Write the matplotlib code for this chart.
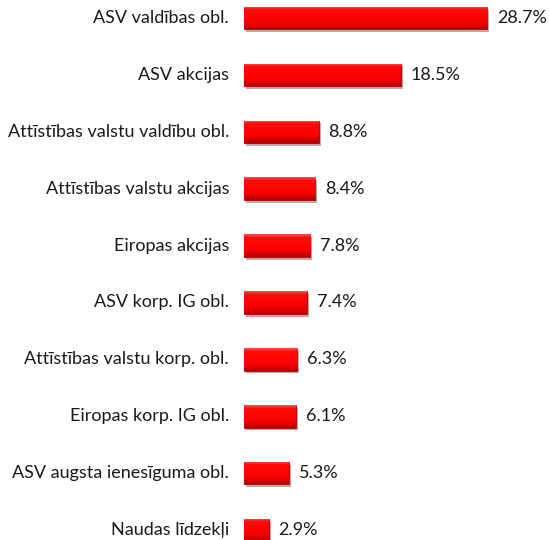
import matplotlib
matplotlib.use("Agg")
import matplotlib.pyplot as plt
import matplotlib.patheffects as pe
import numpy as np
from matplotlib.colors import LinearSegmentedColormap

categories = [
    "ASV valdības obl.",
    "ASV akcijas",
    "Attīstības valstu valdību obl.",
    "Attīstības valstu akcijas",
    "Eiropas akcijas",
    "ASV korp. IG obl.",
    "Attīstības valstu korp. obl.",
    "Eiropas korp. IG obl.",
    "ASV augsta ienesīguma obl.",
    "Naudas līdzekļi",
]
values = [28.7, 18.5, 8.8, 8.4, 7.8, 7.4, 6.3, 6.1, 5.3, 2.9]

plt.rcParams["font.family"] = ["Lato", "DejaVu Sans"]

px_per_unit = 8.47   # horizontal pixels per percentage point
row = 56.9           # vertical pixels per category row

fig = plt.figure(figsize=(5.49, 5.40), dpi=100)
ax = fig.add_axes([244 / 549, 0, 305 / 549, 1])
ax.set_xlim(0, 305 / px_per_unit)
ax.set_ylim((540 - 18) / row, -18 / row)

ypos = np.arange(len(categories))
bars = ax.barh(ypos, values, height=0.395, color="#ff0000", edgecolor="#b00000",
               linewidth=0.6, zorder=2,
               path_effects=[pe.SimplePatchShadow(offset=(1.5, -2), alpha=0.35),
                             pe.Normal()])

# vertical gradient inside each bar for the bevelled look
grad = np.linspace(0, 1, 64).reshape(-1, 1)
cmap = LinearSegmentedColormap.from_list(
    "bev", [(0, "#ff5050"), (0.15, "#ff0a0a"), (0.7, "#f80000"), (1, "#b00000")])
for b in bars:
    x0, y0 = b.get_x(), b.get_y()
    w, h = b.get_width(), b.get_height()
    im = ax.imshow(grad, cmap=cmap, aspect="auto", extent=(x0, x0 + w, y0 + h, y0),
                   zorder=3, interpolation="bilinear")
    im.set_clip_path(b)

for y, v, c in zip(ypos, values, categories):
    ax.text(v + 10 / px_per_unit, y, f"{v:.1f}%", va="center", ha="left",
            fontsize=13, color="#1a1a1a")
    ax.text(-15 / px_per_unit, y, c, va="center", ha="right", fontsize=13,
            color="#1a1a1a", clip_on=False)

ax.axis("off")
fig.savefig("out.png", dpi=100)
